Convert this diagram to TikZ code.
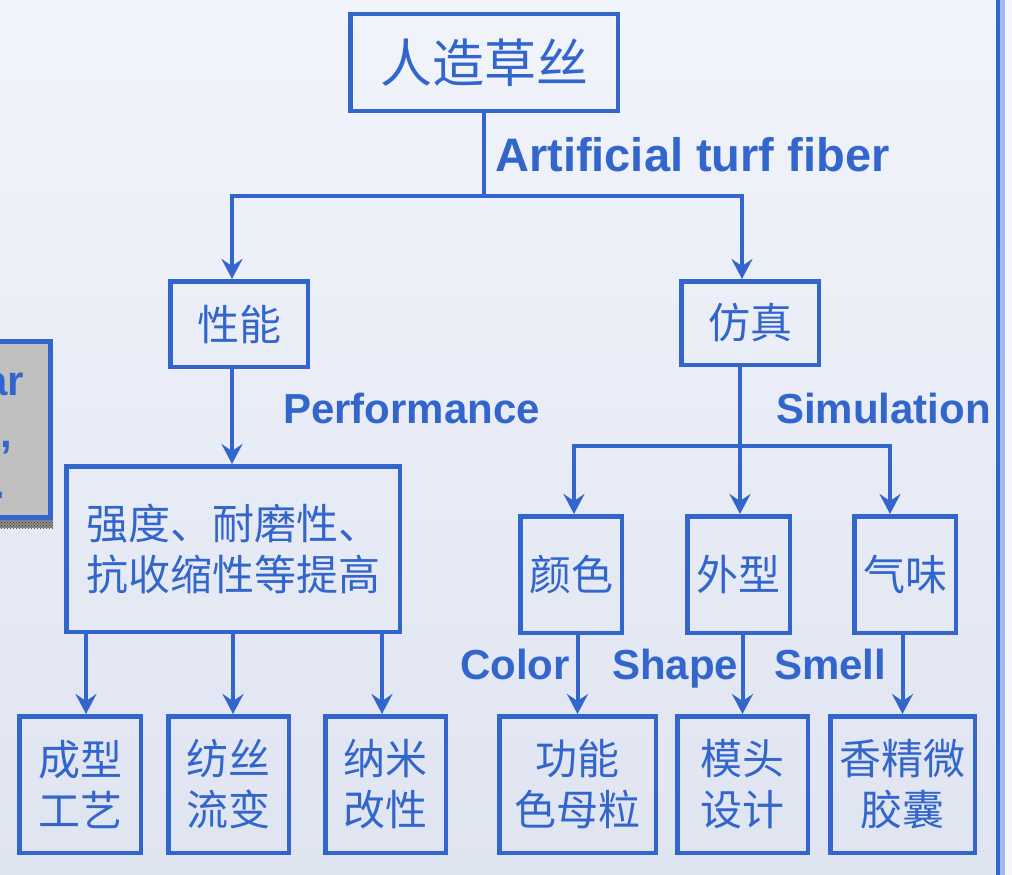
\documentclass[tikz,border=0pt]{standalone}
\usepackage{fontspec}
\setmainfont{Liberation Sans}
\newfontfamily\cjk{Noto Sans CJK SC}
\usetikzlibrary{arrows.meta,patterns}

\definecolor{turfblue}{RGB}{51,102,204}
\definecolor{bgtop}{RGB}{242,244,251}
\definecolor{bgbot}{RGB}{223,228,241}
\definecolor{panelgray}{RGB}{192,192,192}

\begin{document}
\begin{tikzpicture}[x=1pt,y=-1pt,
  box/.style={draw=turfblue, line width=4.5pt, text=turfblue, inner sep=0pt,
    align=center, font=\cjk\fontsize{42}{51}\selectfont},
  link/.style={draw=turfblue, line width=4pt},
  arr/.style={link, -{Stealth[length=20pt,width=21pt,inset=7pt]}},
  lbl/.style={text=turfblue, inner sep=0pt, anchor=base west,
    font=\bfseries\fontsize{42}{50}\selectfont}]
\useasboundingbox (0,0) rectangle (1012,875);
\clip (0,0) rectangle (1012,875);
\shade[top color=bgtop, bottom color=bgbot] (0,0) rectangle (1012,875);

% panel cut off at the left edge
\fill[black!45] (-10,345) rectangle (53,528);
\fill[pattern=crosshatch dots, pattern color=black!80] (-10,345) rectangle (53,528);
\draw[turfblue, line width=5pt, fill=panelgray] (-10,341.5) rectangle (50.5,517.5);
\node[lbl, anchor=base east] (edgeA) at (24,395) {ar};
\node[lbl, anchor=base east] (edgeB) at (12,447) {,};
\node[lbl, anchor=base east] (edgeC) at (5,498) {.};

% frame on the right
\fill[turfblue] (996,0) rectangle (999.5,875);
\fill[turfblue!45!white] (999.5,0) rectangle (1005,875);
\fill[white!96!blue] (1005,0) rectangle (1012,875);

% boxes
\node[box, minimum width=267.5pt, minimum height=96.5pt,
  font=\cjk\fontsize{52}{60}\selectfont] (turf) at (484,62.5) {人造草丝};
\node[box, minimum width=137.5pt, minimum height=85.5pt] (perf) at (239,324) {性能};
\node[box, minimum width=137.5pt, minimum height=83.5pt] (simu) at (750,323) {仿真};
\node[box, minimum width=333.5pt, minimum height=165.5pt] (gain) at (233,549)
  {强度、耐磨性、\\抗收缩性等提高};

\node[box, minimum width=101.5pt, minimum height=116.5pt] (color) at (571,574.5) {颜色};
\node[box, minimum width=102.5pt, minimum height=116.5pt] (shape) at (738.5,574.5) {外型};
\node[box, minimum width=101.5pt, minimum height=116.5pt] (smell) at (905,574.5) {气味};

\node[box, minimum width=121.5pt, minimum height=136.5pt] (mold) at (80,784.5) {成型\\工艺};
\node[box, minimum width=120.5pt, minimum height=136.5pt] (spin) at (228.5,784.5) {纺丝\\流变};
\node[box, minimum width=120.5pt, minimum height=136.5pt] (nano) at (385.5,784.5) {纳米\\改性};
\node[box, minimum width=156.5pt, minimum height=136.5pt] (pigm) at (577.5,784.5) {功能\\色母粒};
\node[box, minimum width=130.5pt, minimum height=136.5pt] (die) at (742.5,784.5) {模头\\设计};
\node[box, minimum width=144.5pt, minimum height=136.5pt] (frag) at (902.5,784.5) {香精微\\胶囊};

% connectors
\coordinate (forkA) at (484,196);
\coordinate (forkB) at (740,446);
\draw[link] (turf.south) -- (forkA);
\draw[arr] (forkA) -| ([xshift=-7pt]perf.north);
\draw[arr] (forkA) -| ([xshift=-8pt]simu.north);

\draw[arr] ([xshift=-7pt]perf.south) -- ([xshift=-7pt]perf.south |- gain.north);
\foreach \n/\dx in {mold/6,spin/4.5,nano/-3.5}
  \draw[arr] ([xshift=\dx pt]\n.north |- gain.south) -- ([xshift=\dx pt]\n.north);

\draw[link] ([xshift=-10pt]simu.south) -- (forkB);
\draw[arr] (forkB) -| ([xshift=3pt]color.north);
\draw[arr] (forkB) -- (forkB |- shape.north);
\draw[arr] (forkB) -| ([xshift=-15pt]smell.north);
\foreach \u/\l in {color/pigm,shape/die,smell/frag}
  \draw[arr] (\u.south -| \l.north) -- (\l.north);

% labels
\node[lbl, font=\bfseries\fontsize{47}{56}\selectfont] (artlbl) at (495,171) {Artificial turf fiber};
\node[lbl] (perflbl) at (283,423) {Performance};
\node[lbl] (simulbl) at (776,423) {Simulation};
\node[lbl] (colorlbl) at (460,679) {Color};
\node[lbl] (shapelbl) at (612,679) {Shape};
\node[lbl] (smelllbl) at (774,679) {Smell};
\end{tikzpicture}
\end{document}
